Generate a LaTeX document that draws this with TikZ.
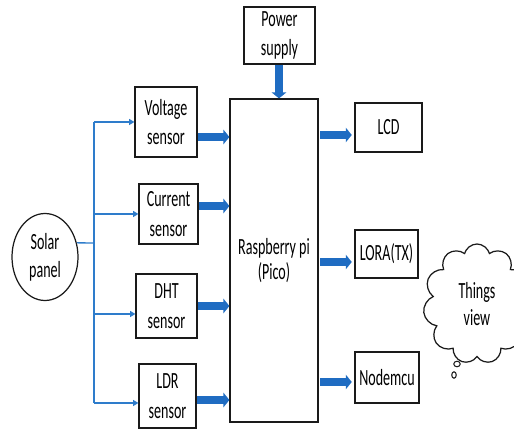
\documentclass[tikz,border=0pt]{standalone}
\usepackage{graphicx}
\usepackage{fontspec}
\setmainfont{Carlito}
\usepackage{tikz}
\usetikzlibrary{shapes,shapes.symbols,arrows.meta,positioning,calc}
\definecolor{fatBlue}{HTML}{1F6CC2}
\definecolor{wireBlue}{HTML}{2E7CCB}
\definecolor{edgeGray}{HTML}{1A1A1A}
\newcommand{\stretchtxt}[1]{\scalebox{1}[1.65]{#1}}

\begin{document}
\begin{tikzpicture}[x=0.02cm, y=-0.02cm,
      box/.style={rectangle, draw=edgeGray, line width=0.7pt, align=center, inner sep=0pt, font=\fontsize{8}{17}\selectfont},
      fat/.style={draw=fatBlue, line width=4.5pt, -{Triangle[length=3.4pt, width=8.2pt]}},
      wire/.style={draw=wireBlue, line width=0.75pt},
      tip/.style={-{Triangle[length=3pt, width=3.4pt]}}
    ]
      \useasboundingbox (0,0) rectangle (514,431);
      % solar and sensors
      \node[ellipse, draw=edgeGray, line width=0.7pt, align=center, font=\fontsize{8}{16}\selectfont, minimum width=1.32cm, minimum height=1.74cm, inner sep=0pt] (solar) at (45,257) {\stretchtxt{Solar}\\\stretchtxt{panel}};
      \node[box, minimum width=1.24cm, minimum height=1.4cm] (volt) at (166,122) {\stretchtxt{Voltage}\\\stretchtxt{sensor}};
      \node[box, minimum width=1.18cm, minimum height=1.2cm] (curr) at (168.5,214) {\stretchtxt{Current}\\\stretchtxt{sensor}};
      \node[box, minimum width=1.22cm, minimum height=1.28cm] (dht) at (166.5,306) {\stretchtxt{DHT}\\\stretchtxt{sensor}};
      \node[box, minimum width=1.14cm, minimum height=1.28cm] (ldr) at (167.5,396) {\stretchtxt{LDR}\\\stretchtxt{sensor}};
      % controller
      \node[box, minimum width=1.76cm, minimum height=6.46cm, font=\fontsize{8}{14}\selectfont] (rpi) at (274,260.5) {\stretchtxt{Raspberry pi}\\\stretchtxt{(Pico)}};
      \node[box, minimum width=1.42cm, minimum height=1.14cm] (power) at (279.5,35.5) {\stretchtxt{Power}\\\stretchtxt{supply}};
      % outputs
      \node[box, minimum width=1.34cm, minimum height=0.98cm] (lcd) at (388.5,127.5) {\stretchtxt{LCD}};
      \node[box, minimum width=1.26cm, minimum height=0.96cm] (lora) at (386.5,254) {\stretchtxt{LORA(TX)}};
      \node[box, minimum width=1.28cm, minimum height=1.02cm] (nmcu) at (387,377.5) {\stretchtxt{Nodemcu}};
      \node[cloud, cloud puffs=11, draw=edgeGray, line width=0.7pt, align=center, font=\fontsize{8}{15}\selectfont, minimum width=2.15cm, minimum height=2.4cm] (tview) at (477,304) {\stretchtxt{Things}\\\stretchtxt{view}};
      \node[ellipse, draw=edgeGray, line width=0.6pt, minimum width=0.13cm, minimum height=0.11cm, inner sep=0pt] (puffA) at (457,364) {};
      \node[ellipse, draw=edgeGray, line width=0.6pt, minimum width=0.09cm, minimum height=0.13cm, inner sep=0pt] (puffB) at (454,375) {};

      % solar bus
      \coordinate (bustop) at (94,122);
      \coordinate (busbot) at (94,403);
      \coordinate (tap) at (94,243);
      \draw[wire] (solar.24) -- (tap);
      \draw[wire] (bustop) -- (busbot);
      \draw[wire, tip] (bustop) -- (volt.west);
      \draw[wire, tip] (bustop |- curr.west) -- (curr.west);
      \draw[wire, tip] ([yshift=-0.16cm]dht.west -| tap) -- ([yshift=-0.16cm]dht.west);
      \draw[wire, tip] (busbot) -- (busbot -| ldr.west);

      % sensors to pico
      \draw[fat] ([yshift=-0.3cm]volt.east) -- ([yshift=-0.3cm]volt.east -| rpi.west);
      \draw[fat] ([yshift=0.16cm]curr.east) -- ([yshift=0.16cm]curr.east -| rpi.west);
      \draw[fat] (dht.east) -- (dht.east -| rpi.west);
      \draw[fat] ([yshift=-0.08cm]ldr.east) -- ([yshift=-0.08cm]ldr.east -| rpi.west);
      \draw[fat] (power.south -| 279,0) -- (rpi.north -| 279,0);

      % pico to outputs
      \draw[fat, shorten <=1pt, shorten >=1.5pt] ([yshift=-0.15cm]lcd.west -| rpi.east) -- ([yshift=-0.15cm]lcd.west);
      \draw[fat, shorten <=1pt, shorten >=1.5pt] ([yshift=-0.16cm]lora.west -| rpi.east) -- ([yshift=-0.16cm]lora.west);
      \draw[fat, shorten <=1pt, shorten >=1.5pt] ([yshift=-0.09cm]nmcu.west -| rpi.east) -- ([yshift=-0.09cm]nmcu.west);
    \end{tikzpicture}
\end{document}
